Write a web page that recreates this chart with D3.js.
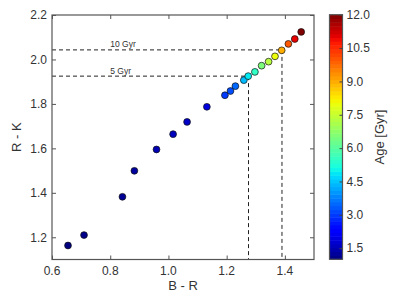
<!DOCTYPE html>
<html>
<head>
<meta charset="utf-8">
<script src="https://cdn.jsdelivr.net/npm/d3@7"></script>
<style>
  body { margin: 0; background: #fff; }
  text { font-family: "Liberation Sans", sans-serif; fill: #333; }
</style>
</head>
<body>
<div id="vis"></div>
<script>
// colour data
var br  = [0.655, 0.710, 0.842, 0.883, 0.959, 1.016, 1.064, 1.132, 1.194, 1.213, 1.230,
           1.259, 1.274, 1.297, 1.320, 1.344, 1.366, 1.389, 1.412, 1.434, 1.456];
var rk  = [1.163, 1.210, 1.382, 1.499, 1.595, 1.664, 1.719, 1.787, 1.839, 1.858, 1.880,
           1.907, 1.925, 1.944, 1.972, 1.990, 2.014, 2.041, 2.070, 2.092, 2.124];
var age = [1.0, 1.1, 1.2, 1.3, 1.5, 1.6, 1.7, 1.9, 3.0, 3.2, 3.5,
           4.4, 4.9, 5.5, 6.5, 7.3, 8.0, 9.0, 10.0, 11.0, 12.0];

// reference lines (age label, B-R, R-K)
var refLabels = ["5 Gyr", "10 Gyr"];
var refBR = [1.275, 1.39];
var refRK = [1.925, 2.043];

var xTicks = [0.6, 0.8, 1.0, 1.2, 1.4];
var yTicks = [1.2, 1.4, 1.6, 1.8, 2.0, 2.2];
var cTicks = [1.5, 3.0, 4.5, 6.0, 7.5, 9.0, 10.5, 12.0];

var w = 399, h = 299;
// plot box (note: "top" is taken by window.top)
var pL = 52, pR = 314, pT = 15, pB = 259.5;

var svg = d3.select("#vis").append("svg")
            .attr("width", w)
            .attr("height", h);

const x = d3.scaleLinear().domain([0.6, 1.5]).range([pL, pR]);
const y = d3.scaleLinear().domain([1.1, 2.2]).range([pB, pT]);

// matplotlib jet
const jr = d3.scaleLinear().domain([0, 0.35, 0.66, 0.89, 1]).range([0, 0, 1, 1, 0.5]);
const jg = d3.scaleLinear().domain([0, 0.125, 0.375, 0.64, 0.91, 1]).range([0, 0, 1, 1, 0, 0]);
const jb = d3.scaleLinear().domain([0, 0.11, 0.34, 0.65, 1]).range([0.5, 1, 1, 0, 0]);
function jet(t) {
  t = Math.max(0, Math.min(1, t));
  return d3.rgb(jr(t) * 255, jg(t) * 255, jb(t) * 255).toString();
}
const cNorm = d3.scaleLinear().domain([1, 12]).range([0, 1]);
const col = v => jet(cNorm(v));

// dashed reference lines
refLabels.forEach(function(lab, i) {
  svg.append("line")
     .attr("x1", x(0.6)).attr("x2", x(refBR[i]))
     .attr("y1", y(refRK[i])).attr("y2", y(refRK[i]))
     .attr("stroke", "#222").attr("stroke-width", 1)
     .attr("stroke-dasharray", "4,3");
  svg.append("line")
     .attr("x1", x(refBR[i])).attr("x2", x(refBR[i]))
     .attr("y1", y(refRK[i])).attr("y2", y(1.1))
     .attr("stroke", "#222").attr("stroke-width", 1)
     .attr("stroke-dasharray", "4,3");
  svg.append("text")
     .attr("x", x(0.8))
     .attr("y", y(refRK[i]) - 2.5)
     .attr("font-size", 8.5)
     .text(lab);
});

// points
svg.selectAll("circle.pt")
   .data(br)
   .enter()
   .append("circle")
   .attr("class", "pt")
   .attr("cx", (d, i) => x(d))
   .attr("cy", (d, i) => y(rk[i]))
   .attr("r", 3.4)
   .attr("fill", (d, i) => col(age[i]))
   .attr("stroke", "#111")
   .attr("stroke-width", 0.7);

// frame
svg.append("rect")
   .attr("x", pL).attr("y", pT)
   .attr("width", pR - pL).attr("height", pB - pT)
   .attr("fill", "none").attr("stroke", "#555").attr("stroke-width", 1.2);

// inside ticks on all four sides
const xB = svg.append("g").attr("transform", `translate(0,${pB})`)
              .call(d3.axisTop(x).tickValues(xTicks).tickSize(4).tickFormat(""));
const xT = svg.append("g").attr("transform", `translate(0,${pT})`)
              .call(d3.axisBottom(x).tickValues(xTicks).tickSize(4).tickFormat(""));
const yL = svg.append("g").attr("transform", `translate(${pL},0)`)
              .call(d3.axisRight(y).tickValues(yTicks).tickSize(4).tickFormat(""));
const yR = svg.append("g").attr("transform", `translate(${pR},0)`)
              .call(d3.axisLeft(y).tickValues(yTicks).tickSize(4).tickFormat(""));
[xB, xT, yL, yR].forEach(g => {
  g.select(".domain").remove();
  g.selectAll("line").attr("stroke", "#555");
});

// tick labels
svg.selectAll("text.xt").data(xTicks).enter().append("text")
   .attr("class", "xt")
   .attr("x", d => x(d)).attr("y", pB + 15)
   .attr("text-anchor", "middle").attr("font-size", 12)
   .text(d => d3.format(".1f")(d));
svg.selectAll("text.yt").data(yTicks).enter().append("text")
   .attr("class", "yt")
   .attr("x", pL - 5).attr("y", d => y(d) + 4.3)
   .attr("text-anchor", "end").attr("font-size", 12)
   .text(d => d3.format(".1f")(d));

// axis titles
svg.append("text")
   .attr("x", (pL + pR) / 2).attr("y", 290)
   .attr("text-anchor", "middle").attr("font-size", 13)
   .text("B - R");
svg.append("text")
   .attr("transform", `translate(21,${(pT + pB) / 2}) rotate(-90)`)
   .attr("text-anchor", "middle").attr("font-size", 13)
   .text("R - K");

// colorbar
var cbX = 329.5, cbW = 13, cbTop = 14.7, cbBot = 259.3;
const cy = d3.scaleLinear().domain([1, 12]).range([cbBot, cbTop]);
var nBand = 64;
var bands = d3.range(nBand);
svg.selectAll("rect.band").data(bands).enter().append("rect")
   .attr("class", "band")
   .attr("x", cbX)
   .attr("y", d => cy(1 + (d + 1) * 11 / nBand))
   .attr("width", cbW)
   .attr("height", d => cy(1 + d * 11 / nBand) - cy(1 + (d + 1) * 11 / nBand) + 0.5)
   .attr("fill", d => jet((d + 0.5) / nBand));
svg.append("rect")
   .attr("x", cbX).attr("y", cbTop)
   .attr("width", cbW).attr("height", cbBot - cbTop)
   .attr("fill", "none").attr("stroke", "#555").attr("stroke-width", 1.2);
const cAx = svg.append("g").attr("transform", `translate(${cbX + cbW},0)`)
               .call(d3.axisLeft(cy).tickValues(cTicks).tickSize(3).tickFormat(""));
cAx.select(".domain").remove();
cAx.selectAll("line").attr("stroke", "#444");
svg.selectAll("text.ct").data(cTicks).enter().append("text")
   .attr("class", "ct")
   .attr("x", cbX + cbW + 4).attr("y", d => cy(d) + 4.3)
   .attr("font-size", 12)
   .text(d => d3.format(".1f")(d));
svg.append("text")
   .attr("transform", `translate(384,${(cbTop + cbBot) / 2}) rotate(-90)`)
   .attr("text-anchor", "middle").attr("font-size", 13)
   .text("Age [Gyr]");
</script>
</body>
</html>
